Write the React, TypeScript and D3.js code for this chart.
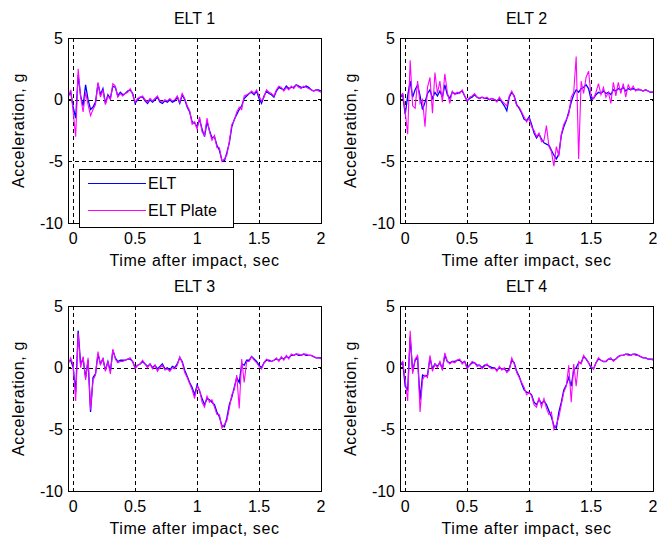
import React from 'react';
import * as d3 from 'd3';

const panelTitles = ['ELT 1', 'ELT 2', 'ELT 3', 'ELT 4'];
const seriesNames = ['ELT', 'ELT Plate'];
const seriesColors = ['#0000ff', '#ff00ff'];
const xTicks = [0, 0.5, 1, 1.5, 2];
const yTicks = [-10, -5, 0, 5];
const xLabel = 'Time after impact, sec';
const yLabel = 'Acceleration, g';

// one sample every 0.02 s, first sample at -0.04 s
const sampleStart = -0.04;
const sampleStep = 0.02;

// ELT 1
const elt1 = [
  0.3, 0.6, -0.6, -1.5, 2.0, 0.3, -0.5, 1.2, 0.0, -0.8, -0.6, -0.2, 1.3, 0.4, 0.9, -0.3, 0.4, 0.1, 1.1, 1.0, 0.3, 0.6, 0.4, 0.5, 0.7, 0.8, 0.5,
  -0.3, 0.0, 0.2, 0.2, -0.1, -0.3, 0.0, -0.2, 0.0, 0.2, -0.2, -0.3, -0.1, -0.2, 0.0, -0.2, -0.1, 0.2, -0.3, 0.4, 0.0, -0.6, -1.0, -1.8, -1.9,
  -2.2, -1.6, -2.4, -3.0, -1.8, -2.5, -3.1, -3.0, -3.7, -4.1, -4.9, -5.0, -4.3, -3.5, -2.2, -1.6, -1.2, -0.8, -0.5, 0.1, 0.3, 0.5, 0.6, 0.4, 0.7,
  0.1, -0.3, 0.3, 0.7, 0.5, 0.4, 0.2, 0.7, 1.0, 0.9, 0.8, 1.1, 0.9, 1.0, 1.0, 1.2, 1.1, 1.0, 1.0, 1.1, 1.0, 0.8, 0.7, 0.8, 0.8, 0.7,
];
const plate1 = [
  0.2, 0.8, -1.0, -3.0, 2.5, 0.2, -1.0, 0.6, -0.4, -1.3, -0.8, -0.4, 1.4, 0.2, 0.8, -0.4, 0.3, 0.0, 1.3, 1.1, 0.2, 0.5, 0.3, 0.5, 0.6, 0.9, 0.4,
  -0.2, 0.1, 0.2, 0.3, 0.0, -0.2, 0.1, -0.1, 0.1, 0.3, -0.1, -0.2, 0.0, -0.1, 0.1, -0.1, 0.0, 0.3, -0.2, 0.5, 0.1, -0.5, -0.9, -2.0, -1.8,
  -2.4, -1.4, -2.6, -2.9, -1.5, -2.6, -3.3, -2.9, -3.9, -3.9, -5.0, -4.8, -4.5, -3.4, -2.0, -1.7, -1.0, -0.6, -0.8, 0.3, 0.4, 0.5, 0.7, 0.5, 0.8,
  0.3, -0.1, 0.2, 0.8, 0.6, 0.5, 0.3, 0.8, 1.1, 1.0, 0.7, 1.0, 0.8, 1.1, 0.9, 1.2, 1.0, 0.9, 1.1, 1.0, 0.9, 0.8, 0.7, 0.8, 0.7, 0.6,
];

// ELT 2
const elt2 = [
  0.2, 0.4, -1.2, 0.3, 1.5, 0.2, 0.8, 1.2, 0.3, -0.8, -0.2, 0.5, 0.8, 0.1, 0.6, 0.3, 0.7, 0.2, 1.2, 0.4, 0.1, 0.6, 0.5, 0.5, 0.6, 0.7, 0.3,
  -0.1, 0.1, 0.2, 0.4, 0.2, 0.1, 0.2, 0.1, 0.1, 0.0, 0.1, 0.0, -0.1, 0.1, -0.2, -0.5, -0.9, 0.2, 0.6, 0.3, -0.4, -0.7, -1.1, -1.6, -1.7,
  -1.4, -2.0, -2.7, -3.1, -2.8, -3.2, -3.5, -3.6, -3.7, -4.1, -4.5, -4.8, -4.4, -2.9, -2.2, -1.7, -1.0, -0.2, 0.4, 0.8, 0.6, 0.9, 1.0, 1.2, 0.9,
  0.0, 0.1, 0.4, 0.6, 0.5, 0.7, 0.5, 0.6, 0.4, 0.8, 0.7, 0.9, 0.8, 1.0, 0.7, 0.9, 0.8, 0.9, 0.8, 0.8, 0.8, 0.7, 0.8, 0.7, 0.6, 0.6,
];
const plate2 = [
  0.3, 0.5, -1.0, -2.8, 3.2, -0.5, -0.7, 1.5, -0.3, 0.0, -2.2, 1.0, 1.8, -1.1, 2.2, 0.5, 1.5, -0.2, 2.1, 0.6, -0.3, 0.7, 0.4, 0.6, 0.5, 0.8, 0.3,
  -0.1, 0.2, 0.3, 0.5, 0.2, 0.1, 0.2, 0.1, 0.2, 0.0, 0.1, 0.0, -0.2, 0.2, -0.1, -0.3, -0.5, 0.3, 0.7, 0.2, -0.5, -0.6, -1.0, -1.4, -1.8,
  -1.5, -2.2, -2.5, -3.0, -2.7, -3.4, -3.3, -2.1, -3.8, -4.2, -5.4, -3.8, -4.6, -2.8, -2.0, -1.6, -1.2, 0.2, 0.6, 3.5, -4.8, 1.5, 0.5, 1.8, 2.3,
  0.3, 0.1, 0.6, 1.3, 0.4, 1.0, 0.2, 0.6, -0.3, 1.4, 0.3, 1.4, 0.5, 1.3, 0.2, 1.2, 0.8, 1.1, 0.7, 0.9, 0.8, 0.7, 0.8, 0.7, 0.6, 0.6,
];

// ELT 3
const elt3 = [
  0.5, 0.6, 0.0, -2.0, 3.0, 0.3, 0.7, -0.8, 0.6, -3.6, -0.8, -0.5, 1.1, 0.3, 0.7, -0.2, 0.5, -0.3, 1.4, 0.8, 0.5, 0.6, 0.6, 0.6, 0.7, 0.7, 0.5,
  0.0, 0.2, 0.3, 0.5, 0.3, 0.1, 0.3, 0.0, 0.2, -0.1, 0.1, 0.3, -0.1, 0.0, -0.2, 0.1, 0.0, 0.3, 0.8, 0.5, -0.2, -0.7, -1.2, -1.6, -2.2,
  -1.4, -1.9, -2.5, -3.0, -2.5, -2.6, -2.8, -3.0, -3.6, -4.0, -4.7, -4.8, -4.1, -3.0, -2.4, -1.6, -0.8, -1.2, 0.3, 0.2, 0.6, 0.6, 0.9, 0.7, 0.5,
  0.2, 0.0, 0.4, 0.6, 0.6, 0.5, 0.6, 0.7, 0.6, 0.8, 0.7, 0.9, 0.8, 1.0, 1.0, 1.1, 1.0, 1.0, 1.1, 1.0, 1.0, 1.0, 0.9, 0.8, 0.8, 0.8,
];
const plate3 = [
  0.3, 0.8, 0.2, -2.7, 2.8, 0.0, 0.9, -1.0, 0.8, -3.4, -1.0, -0.6, 1.3, 0.2, 0.8, -0.3, 0.5, -0.5, 1.5, 0.7, 0.4, 0.5, 0.5, 0.6, 0.7, 0.8, 0.5,
  -0.1, 0.2, 0.3, 0.6, 0.3, 0.0, 0.3, -0.1, 0.2, -0.3, 0.0, 0.2, -0.2, -0.1, -0.3, 0.0, -0.1, 0.2, 0.9, 0.4, -0.4, -0.8, -1.3, -1.8, -2.5,
  -1.5, -1.8, -2.8, -3.2, -2.3, -2.8, -2.6, -3.2, -3.8, -3.8, -4.9, -4.6, -4.3, -3.3, -2.2, -1.8, -0.6, -3.3, 0.7, -1.2, 0.5, 0.5, 0.9, 0.6, 0.4,
  0.1, -0.1, 0.4, 0.7, 0.5, 0.5, 0.6, 0.8, 0.5, 0.9, 0.6, 1.0, 0.7, 1.1, 1.0, 1.1, 1.1, 1.0, 1.1, 1.1, 1.0, 1.0, 0.9, 0.8, 0.8, 0.7,
];

// ELT 4
const elt4 = [
  0.2, 0.4, -1.5, -1.8, 2.5, -0.3, 0.6, 0.8, -2.6, -0.6, -0.7, -0.6, 0.8, -0.1, 0.3, 0.1, 0.4, -0.1, 1.0, 0.5, 0.4, 0.5, 0.5, 0.6, 0.6, 0.4, 0.5,
  0.0, 0.2, 0.4, 0.4, 0.2, 0.2, 0.0, 0.2, 0.2, 0.1, 0.0, 0.0, -0.2, 0.0, -0.1, -0.1, -0.3, -0.1, 0.6, 0.4, -0.3, -0.7, -1.3, -1.8, -2.0,
  -2.0, -2.2, -2.8, -3.0, -2.6, -2.9, -2.7, -3.0, -3.5, -4.0, -4.7, -4.9, -3.6, -2.8, -1.8, -1.4, -0.8, -1.5, -0.2, 0.0, 0.4, 0.4, 0.9, 0.7, 0.4,
  0.0, -0.1, 0.4, 0.7, 0.6, 0.5, 0.5, 0.7, 0.7, 0.6, 0.7, 0.9, 1.0, 1.0, 1.1, 1.1, 1.0, 1.1, 1.1, 1.0, 0.9, 0.8, 0.8, 0.7, 0.7, 0.7,
];
const plate4 = [
  0.3, 0.5, -1.0, -2.7, 3.0, -0.5, 0.7, 1.0, -3.6, -1.0, -0.6, -0.8, 1.0, -0.3, 0.3, 0.0, 0.5, -0.2, 1.2, 0.5, 0.3, 0.5, 0.4, 0.6, 0.7, 0.3, 0.5,
  -0.1, 0.2, 0.5, 0.4, 0.1, 0.2, -0.1, 0.1, 0.3, 0.0, -0.1, 0.0, -0.3, 0.1, -0.2, 0.0, -0.4, -0.2, 0.8, 0.3, -0.4, -0.8, -1.2, -1.6, -2.2,
  -2.0, -2.3, -3.0, -3.2, -2.4, -3.2, -2.5, -3.3, -3.8, -3.6, -5.0, -4.6, -4.0, -3.0, -2.0, -1.5, 0.2, -2.8, 0.3, -1.5, 0.5, 0.3, 1.0, 0.7, 0.4,
  0.1, -0.1, 0.4, 0.8, 0.6, 0.5, 0.5, 0.7, 0.8, 0.5, 0.7, 0.9, 1.0, 1.0, 1.1, 1.0, 1.0, 1.1, 1.0, 1.0, 0.9, 0.8, 0.8, 0.7, 0.7, 0.6,
];

const eltSeries = [elt1, elt2, elt3, elt4];
const plateSeries = [plate1, plate2, plate3, plate4];

const W = 657;
const H = 542;
const panelW = 253;
const panelH = 185;
const panelOrigins = [[68, 38], [400, 38], [68, 306], [400, 306]];
const font = '"Liberation Sans", Arial, sans-serif';

function Panel({ index }: { index: number }) {
  const [x0, y0] = panelOrigins[index];
  const x = d3.scaleLinear().domain([-0.042, 2]).range([0, panelW]);
  const y = d3.scaleLinear().domain([-10, 5]).range([panelH, 0]);
  const line = d3
    .line<number>()
    .x((_, i) => x(sampleStart + i * sampleStep))
    .y((d) => y(d));

  const gridX = xTicks.filter((t) => x(t) > 1 && x(t) < panelW - 1);
  const gridY = yTicks.filter((t) => y(t) > 1 && y(t) < panelH - 1);

  return (
    <g transform={`translate(${x0},${y0})`} fontFamily={font} fontSize={16} fill="#000">
      <text x={panelW / 2} y={-14} textAnchor="middle">{panelTitles[index]}</text>

      {/* grid */}
      <g stroke="#000" strokeWidth={1} strokeDasharray="4 3" shapeRendering="crispEdges">
        {gridX.map((t) => (
          <line key={'gx' + t} x1={Math.round(x(t)) + 0.5} x2={Math.round(x(t)) + 0.5} y1={0} y2={panelH} />
        ))}
        {gridY.map((t) => (
          <line key={'gy' + t} x1={0} x2={panelW} y1={Math.round(y(t)) + 0.5} y2={Math.round(y(t)) + 0.5} />
        ))}
      </g>

      {/* data */}
      <path d={line(eltSeries[index]) || ''} fill="none" stroke={seriesColors[0]} strokeWidth={1.3} />
      <path d={line(plateSeries[index]) || ''} fill="none" stroke={seriesColors[1]} strokeWidth={1.1} />

      {/* box and ticks */}
      <g stroke="#000" strokeWidth={1} shapeRendering="crispEdges">
        <rect x={0.5} y={0.5} width={panelW} height={panelH} fill="none" />
        {xTicks.map((t) => (
          <g key={'tx' + t}>
            <line x1={x(t)} x2={x(t)} y1={panelH} y2={panelH - 3} />
            <line x1={x(t)} x2={x(t)} y1={0} y2={3} />
          </g>
        ))}
        {yTicks.map((t) => (
          <g key={'ty' + t}>
            <line x1={0} x2={3} y1={y(t)} y2={y(t)} />
            <line x1={panelW} x2={panelW - 3} y1={y(t)} y2={y(t)} />
          </g>
        ))}
      </g>

      {/* tick labels */}
      {xTicks.map((t) => (
        <text key={'lx' + t} x={x(t)} y={panelH + 21} textAnchor="middle">{t}</text>
      ))}
      {yTicks.map((t) => (
        <text key={'ly' + t} x={-5} y={y(t)} dy="0.35em" textAnchor="end">{t}</text>
      ))}

      <text x={panelW / 2} y={panelH + 43} textAnchor="middle" letterSpacing={0.6}>{xLabel}</text>
      <text
        transform={`translate(-44,${panelH / 2}) rotate(-90)`}
        textAnchor="middle"
        letterSpacing={0.6}
      >
        {yLabel}
      </text>

      {index === 0 && (
        <g transform="translate(11,131)">
          <rect x={0.5} y={0.5} width={154} height={58} fill="#fff" stroke="#000" shapeRendering="crispEdges" />
          {seriesNames.map((name, i) => (
            <g key={name}>
              <line x1={9} x2={67} y1={14.5 + i * 27} y2={14.5 + i * 27} stroke={seriesColors[i]} strokeWidth={1.1} />
              <text x={69} y={20 + i * 27}>{name}</text>
            </g>
          ))}
        </g>
      )}
    </g>
  );
}

export default function App() {
  return (
    <svg
      width={W}
      height={H}
      style={{ position: 'absolute', left: 0, top: 0, background: '#fff' }}
    >
      <rect width={W} height={H} fill="#fff" />
      {panelTitles.map((_, i) => (
        <Panel key={i} index={i} />
      ))}
    </svg>
  );
}
